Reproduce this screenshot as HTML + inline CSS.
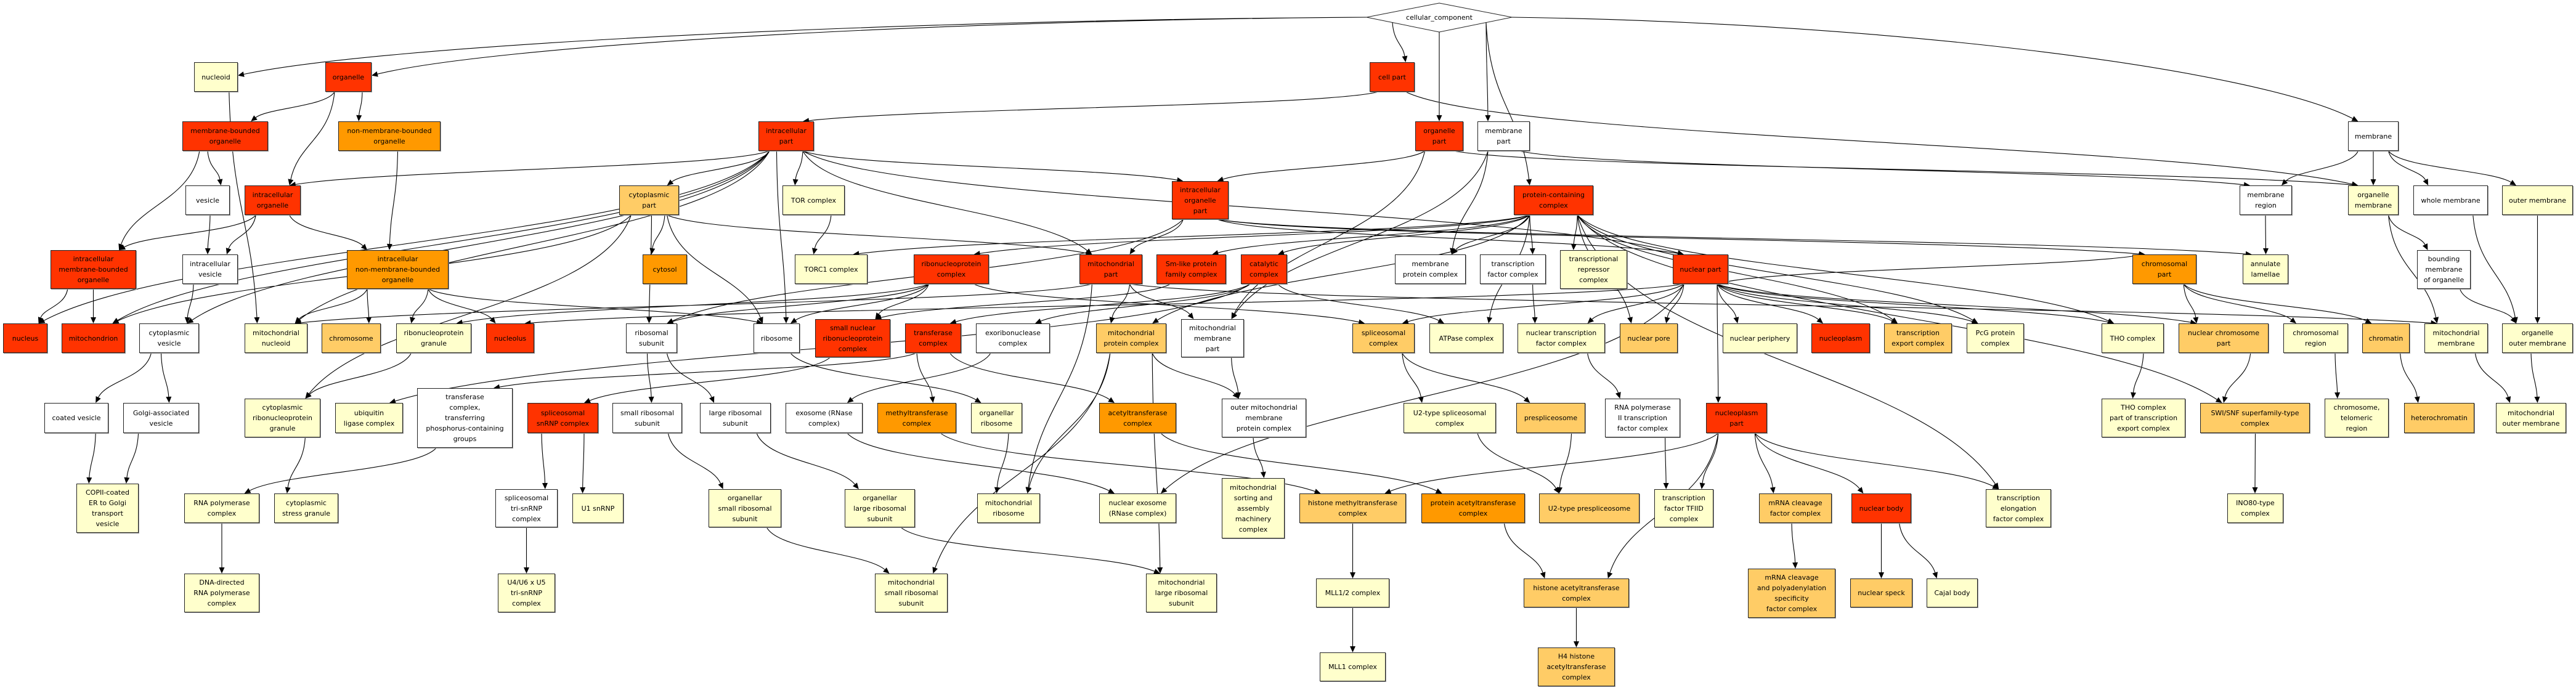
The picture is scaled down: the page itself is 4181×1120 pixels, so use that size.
<!DOCTYPE html>
<html><head><meta charset="utf-8">
<style>
html,body{margin:0;padding:0;background:#fff;}
#c{position:relative;width:4181px;height:1120px;overflow:hidden;background:#fff;}
svg{position:absolute;left:0;top:0;}
.n{position:absolute;box-sizing:border-box;border:1px solid #222;box-shadow:1px 1px 0 #999;display:flex;align-items:center;justify-content:center;text-align:center;font-family:"DejaVu Sans","Liberation Sans",sans-serif;font-size:11px;line-height:17px;color:#000;white-space:nowrap;z-index:2;}
.w{background:#fff}.p{background:#FFFFCC}.lo{background:#FFCC66}.o{background:#FF9900}.r{background:#FF3300}
</style></head><body><div id="c">
<svg id="s" width="4181" height="1120" viewBox="0 0 4181 1120">
<polygon points="2218,28 2336,5 2454,28 2336,52" fill="#fff" stroke="#222" stroke-width="1"/>
<text x="2336" y="32" text-anchor="middle" font-family="DejaVu Sans, Liberation Sans, sans-serif" font-size="11">cellular_component</text>
<g id="eg" fill="none" stroke="#000" stroke-width="1.1"></g><g id="ah" fill="#000"></g>
</svg>
<div id="cc" style="position:absolute;left:2218px;top:5px;width:236px;height:47px"></div>
<div class="n p" id="nucleoid" style="left:315px;top:101px;width:71px;height:48px">nucleoid</div>
<div class="n r" id="organelle" style="left:528px;top:101px;width:75px;height:48px">organelle</div>
<div class="n r" id="cellpart" style="left:2223px;top:101px;width:73px;height:48px">cell part</div>
<div class="n r" id="mbo" style="left:296px;top:197px;width:139px;height:48px">membrane-bounded<br>organelle</div>
<div class="n o" id="nmbo" style="left:549px;top:197px;width:166px;height:48px">non-membrane-bounded<br>organelle</div>
<div class="n r" id="icpart" style="left:1231px;top:197px;width:90px;height:48px">intracellular<br>part</div>
<div class="n r" id="orgpart" style="left:2297px;top:197px;width:78px;height:48px">organelle<br>part</div>
<div class="n w" id="mempart" style="left:2398px;top:197px;width:85px;height:48px">membrane<br>part</div>
<div class="n w" id="membrane" style="left:3811px;top:197px;width:82px;height:48px">membrane</div>
<div class="n w" id="vesicle" style="left:301px;top:301px;width:72px;height:48px">vesicle</div>
<div class="n r" id="io" style="left:397px;top:301px;width:91px;height:48px">intracellular<br>organelle</div>
<div class="n lo" id="cytopart" style="left:1005px;top:301px;width:97px;height:48px">cytoplasmic<br>part</div>
<div class="n p" id="tor" style="left:1270px;top:301px;width:101px;height:48px">TOR complex</div>
<div class="n r" id="iop" style="left:1902px;top:294px;width:92px;height:62px">intracellular<br>organelle<br>part</div>
<div class="n r" id="pcc" style="left:2457px;top:301px;width:129px;height:48px">protein-containing<br>complex</div>
<div class="n w" id="memreg" style="left:3635px;top:301px;width:85px;height:48px">membrane<br>region</div>
<div class="n p" id="orgmem" style="left:3811px;top:301px;width:82px;height:48px">organelle<br>membrane</div>
<div class="n w" id="wholemem" style="left:3917px;top:301px;width:121px;height:48px">whole membrane</div>
<div class="n p" id="outermem" style="left:4061px;top:301px;width:115px;height:48px">outer membrane</div>
<div class="n r" id="imbo" style="left:82px;top:406px;width:139px;height:63px">intracellular<br>membrane-bounded<br>organelle</div>
<div class="n w" id="iv" style="left:296px;top:413px;width:90px;height:48px">intracellular<br>vesicle</div>
<div class="n o" id="inmbo" style="left:563px;top:406px;width:165px;height:63px">intracellular<br>non-membrane-bounded<br>organelle</div>
<div class="n o" id="cytosol" style="left:1043px;top:413px;width:72px;height:48px">cytosol</div>
<div class="n p" id="torc1" style="left:1290px;top:413px;width:118px;height:48px">TORC1 complex</div>
<div class="n r" id="rnpc" style="left:1483px;top:413px;width:122px;height:48px">ribonucleoprotein<br>complex</div>
<div class="n r" id="mitopart" style="left:1752px;top:413px;width:102px;height:48px">mitochondrial<br>part</div>
<div class="n r" id="smlike" style="left:1877px;top:413px;width:113px;height:48px">Sm-like protein<br>family complex</div>
<div class="n r" id="catal" style="left:2014px;top:413px;width:75px;height:48px">catalytic<br>complex</div>
<div class="n w" id="mpc" style="left:2264px;top:413px;width:115px;height:48px">membrane<br>protein complex</div>
<div class="n w" id="tfc" style="left:2402px;top:413px;width:107px;height:48px">transcription<br>factor complex</div>
<div class="n p" id="trc" style="left:2532px;top:406px;width:109px;height:63px">transcriptional<br>repressor<br>complex</div>
<div class="n r" id="nucpart" style="left:2715px;top:413px;width:90px;height:48px">nuclear part</div>
<div class="n o" id="chrpart" style="left:3461px;top:413px;width:104px;height:48px">chromosomal<br>part</div>
<div class="n p" id="annul" style="left:3640px;top:413px;width:74px;height:48px">annulate<br>lamellae</div>
<div class="n w" id="bound" style="left:3923px;top:406px;width:87px;height:63px">bounding<br>membrane<br>of organelle</div>
<div class="n r" id="nucleus" style="left:5px;top:525px;width:72px;height:48px">nucleus</div>
<div class="n r" id="mitochondrion" style="left:100px;top:525px;width:103px;height:48px">mitochondrion</div>
<div class="n w" id="cytoves" style="left:226px;top:525px;width:97px;height:48px">cytoplasmic<br>vesicle</div>
<div class="n p" id="mitonucleoid" style="left:397px;top:525px;width:102px;height:48px">mitochondrial<br>nucleoid</div>
<div class="n lo" id="chromosome" style="left:522px;top:525px;width:96px;height:48px">chromosome</div>
<div class="n p" id="rnpgran" style="left:643px;top:525px;width:122px;height:48px">ribonucleoprotein<br>granule</div>
<div class="n r" id="nucleolus" style="left:789px;top:525px;width:78px;height:48px">nucleolus</div>
<div class="n w" id="ribsub" style="left:1016px;top:525px;width:83px;height:48px">ribosomal<br>subunit</div>
<div class="n w" id="ribosome" style="left:1223px;top:525px;width:75px;height:48px">ribosome</div>
<div class="n r" id="snrnp" style="left:1323px;top:518px;width:122px;height:62px">small nuclear<br>ribonucleoprotein<br>complex</div>
<div class="n r" id="transf" style="left:1469px;top:525px;width:91px;height:48px">transferase<br>complex</div>
<div class="n w" id="exorib" style="left:1584px;top:525px;width:120px;height:48px">exoribonuclease<br>complex</div>
<div class="n lo" id="mitoprot" style="left:1779px;top:525px;width:114px;height:48px">mitochondrial<br>protein complex</div>
<div class="n w" id="mitomempart" style="left:1917px;top:518px;width:102px;height:62px">mitochondrial<br>membrane<br>part</div>
<div class="n lo" id="splc" style="left:2195px;top:525px;width:101px;height:48px">spliceosomal<br>complex</div>
<div class="n p" id="atpase" style="left:2320px;top:525px;width:120px;height:48px">ATPase complex</div>
<div class="n p" id="ntfc" style="left:2463px;top:525px;width:142px;height:48px">nuclear transcription<br>factor complex</div>
<div class="n lo" id="nucpore" style="left:2629px;top:525px;width:94px;height:48px">nuclear pore</div>
<div class="n p" id="nucper" style="left:2796px;top:525px;width:121px;height:48px">nuclear periphery</div>
<div class="n r" id="nucleoplasm" style="left:2940px;top:525px;width:95px;height:48px">nucleoplasm</div>
<div class="n lo" id="texp" style="left:3058px;top:525px;width:110px;height:48px">transcription<br>export complex</div>
<div class="n p" id="pcg" style="left:3192px;top:525px;width:93px;height:48px">PcG protein<br>complex</div>
<div class="n p" id="tho" style="left:3411px;top:525px;width:101px;height:48px">THO complex</div>
<div class="n lo" id="ncp" style="left:3536px;top:525px;width:146px;height:48px">nuclear chromosome<br>part</div>
<div class="n p" id="chrreg" style="left:3706px;top:525px;width:105px;height:48px">chromosomal<br>region</div>
<div class="n lo" id="chromatin" style="left:3834px;top:525px;width:77px;height:48px">chromatin</div>
<div class="n p" id="mitomem" style="left:3935px;top:525px;width:103px;height:48px">mitochondrial<br>membrane</div>
<div class="n p" id="orgoutmem" style="left:4061px;top:525px;width:115px;height:48px">organelle<br>outer membrane</div>
<div class="n w" id="coated" style="left:72px;top:654px;width:104px;height:49px">coated vesicle</div>
<div class="n w" id="golgi" style="left:200px;top:654px;width:123px;height:49px">Golgi-associated<br>vesicle</div>
<div class="n p" id="cyrnpg" style="left:397px;top:647px;width:123px;height:63px">cytoplasmic<br>ribonucleoprotein<br>granule</div>
<div class="n p" id="ubiq" style="left:544px;top:654px;width:110px;height:49px">ubiquitin<br>ligase complex</div>
<div class="n w" id="tphos" style="left:677px;top:630px;width:155px;height:97px">transferase<br>complex,<br>transferring<br>phosphorus-containing<br>groups</div>
<div class="n r" id="spsnrnp" style="left:856px;top:654px;width:115px;height:49px">spliceosomal<br>snRNP complex</div>
<div class="n w" id="smallrib" style="left:994px;top:654px;width:113px;height:49px">small ribosomal<br>subunit</div>
<div class="n w" id="largerib" style="left:1136px;top:654px;width:115px;height:49px">large ribosomal<br>subunit</div>
<div class="n w" id="exosome" style="left:1275px;top:654px;width:125px;height:49px">exosome (RNase<br>complex)</div>
<div class="n o" id="methyl" style="left:1424px;top:654px;width:128px;height:49px">methyltransferase<br>complex</div>
<div class="n p" id="orgrib" style="left:1576px;top:654px;width:83px;height:49px">organellar<br>ribosome</div>
<div class="n o" id="acetyl" style="left:1784px;top:654px;width:125px;height:49px">acetyltransferase<br>complex</div>
<div class="n w" id="outmitoprot" style="left:1983px;top:647px;width:137px;height:63px">outer mitochondrial<br>membrane<br>protein complex</div>
<div class="n p" id="u2sp" style="left:2278px;top:654px;width:150px;height:49px">U2-type spliceosomal<br>complex</div>
<div class="n lo" id="prespl" style="left:2461px;top:654px;width:112px;height:49px">prespliceosome</div>
<div class="n w" id="rnap2tf" style="left:2605px;top:647px;width:122px;height:63px">RNA polymerase<br>II transcription<br>factor complex</div>
<div class="n r" id="nucplpart" style="left:2769px;top:654px;width:99px;height:49px">nucleoplasm<br>part</div>
<div class="n p" id="thopart" style="left:3411px;top:647px;width:136px;height:63px">THO complex<br>part of transcription<br>export complex</div>
<div class="n lo" id="swisnf" style="left:3571px;top:654px;width:178px;height:49px">SWI/SNF superfamily-type<br>complex</div>
<div class="n p" id="telo" style="left:3773px;top:647px;width:104px;height:63px">chromosome,<br>telomeric<br>region</div>
<div class="n lo" id="hetero" style="left:3902px;top:654px;width:114px;height:49px">heterochromatin</div>
<div class="n p" id="mitooutmem" style="left:4051px;top:654px;width:114px;height:49px">mitochondrial<br>outer membrane</div>
<div class="n p" id="copii" style="left:124px;top:785px;width:101px;height:80px">COPII-coated<br>ER to Golgi<br>transport<br>vesicle</div>
<div class="n p" id="rnapol" style="left:299px;top:801px;width:122px;height:48px">RNA polymerase<br>complex</div>
<div class="n p" id="stress" style="left:445px;top:801px;width:104px;height:48px">cytoplasmic<br>stress granule</div>
<div class="n w" id="trisnrnp" style="left:804px;top:794px;width:101px;height:62px">spliceosomal<br>tri-snRNP<br>complex</div>
<div class="n p" id="u1" style="left:929px;top:801px;width:83px;height:48px">U1 snRNP</div>
<div class="n p" id="orgsmall" style="left:1150px;top:794px;width:118px;height:62px">organellar<br>small ribosomal<br>subunit</div>
<div class="n p" id="orglarge" style="left:1371px;top:794px;width:114px;height:62px">organellar<br>large ribosomal<br>subunit</div>
<div class="n p" id="mitorib" style="left:1586px;top:801px;width:102px;height:48px">mitochondrial<br>ribosome</div>
<div class="n p" id="nucexo" style="left:1784px;top:801px;width:125px;height:48px">nuclear exosome<br>(RNase complex)</div>
<div class="n p" id="sam" style="left:1983px;top:776px;width:102px;height:98px">mitochondrial<br>sorting and<br>assembly<br>machinery<br>complex</div>
<div class="n lo" id="hmt" style="left:2109px;top:801px;width:173px;height:48px">histone methyltransferase<br>complex</div>
<div class="n o" id="pat" style="left:2307px;top:801px;width:168px;height:48px">protein acetyltransferase<br>complex</div>
<div class="n lo" id="u2pre" style="left:2498px;top:801px;width:163px;height:48px">U2-type prespliceosome</div>
<div class="n p" id="tfiid" style="left:2685px;top:794px;width:96px;height:62px">transcription<br>factor TFIID<br>complex</div>
<div class="n lo" id="mrnacf" style="left:2855px;top:801px;width:118px;height:48px">mRNA cleavage<br>factor complex</div>
<div class="n r" id="nucbody" style="left:3005px;top:801px;width:97px;height:48px">nuclear body</div>
<div class="n p" id="telong" style="left:3223px;top:794px;width:106px;height:62px">transcription<br>elongation<br>factor complex</div>
<div class="n p" id="ino80" style="left:3615px;top:801px;width:91px;height:48px">INO80-type<br>complex</div>
<div class="n p" id="dnarna" style="left:299px;top:931px;width:122px;height:63px">DNA-directed<br>RNA polymerase<br>complex</div>
<div class="n p" id="u4u6" style="left:808px;top:931px;width:93px;height:63px">U4/U6 x U5<br>tri-snRNP<br>complex</div>
<div class="n p" id="mitosmall" style="left:1420px;top:931px;width:118px;height:63px">mitochondrial<br>small ribosomal<br>subunit</div>
<div class="n p" id="mitolarge" style="left:1860px;top:931px;width:115px;height:63px">mitochondrial<br>large ribosomal<br>subunit</div>
<div class="n p" id="mll12" style="left:2136px;top:939px;width:119px;height:47px">MLL1/2 complex</div>
<div class="n lo" id="hat" style="left:2473px;top:939px;width:171px;height:47px">histone acetyltransferase<br>complex</div>
<div class="n lo" id="mrnacpsf" style="left:2837px;top:923px;width:142px;height:80px">mRNA cleavage<br>and polyadenylation<br>specificity<br>factor complex</div>
<div class="n lo" id="speck" style="left:3003px;top:939px;width:101px;height:47px">nuclear speck</div>
<div class="n p" id="cajal" style="left:3127px;top:939px;width:83px;height:47px">Cajal body</div>
<div class="n p" id="mll1" style="left:2142px;top:1059px;width:107px;height:47px">MLL1 complex</div>
<div class="n lo" id="h4" style="left:2496px;top:1051px;width:125px;height:63px">H4 histone<br>acetyltransferase<br>complex</div>
</div>
<script>
var E="cc>nucleoid cc>organelle cc>cellpart cc>orgpart cc>mempart cc>pcc cc>membrane organelle>mbo organelle>nmbo organelle>io nucleoid>mitonucleoid mbo>vesicle mbo>imbo nmbo>inmbo vesicle>iv io>imbo io>iv io>inmbo imbo>nucleus imbo>mitochondrion iv>cytoves inmbo>mitonucleoid inmbo>chromosome inmbo>rnpgran inmbo>nucleolus inmbo>ribosome cytoves>coated cytoves>golgi coated>copii golgi>copii rnpgran>cyrnpg cyrnpg>stress cellpart>icpart cellpart>orgmem icpart>cytopart icpart>tor icpart>io icpart>iop icpart>mitochondrion icpart>nucleus icpart>ribosome icpart>nucpart icpart>mitopart icpart>cytoves icpart>mitonucleoid orgpart>iop orgpart>orgmem orgpart>mitomempart mempart>mpc mempart>memreg mempart>mitomempart cytopart>cytosol cytopart>ribosome cytopart>mitopart cytopart>ribsub cytopart>cyrnpg cytopart>mitochondrion tor>torc1 pcc>torc1 pcc>rnpc pcc>catal pcc>mpc pcc>tfc pcc>trc pcc>nucpore pcc>smlike pcc>pcg pcc>tho pcc>texp pcc>telong pcc>atpase pcc>mitoprot pcc>swisnf iop>mitopart iop>nucpart iop>chrpart iop>ribsub iop>annul rnpc>snrnp rnpc>ribosome rnpc>ribsub rnpc>rnpgran rnpc>splc mitopart>mitoprot mitopart>mitomempart mitopart>mitorib mitopart>mitomem mitopart>mitonucleoid smlike>snrnp catal>transf catal>exorib catal>atpase catal>ubiq snrnp>spsnrnp transf>methyl transf>acetyl transf>tphos exorib>exosome mitoprot>outmitoprot mitoprot>mitorib mitoprot>mitosmall mitoprot>mitolarge mitomempart>outmitoprot ribsub>smallrib ribsub>largerib smallrib>orgsmall largerib>orglarge orgsmall>mitosmall orglarge>mitolarge exosome>nucexo methyl>hmt orgrib>mitorib ribosome>orgrib acetyl>pat outmitoprot>sam tphos>rnapol spsnrnp>trisnrnp spsnrnp>u1 trisnrnp>u4u6 rnapol>dnarna splc>u2sp splc>prespl u2sp>u2pre prespl>u2pre tfc>ntfc ntfc>rnap2tf rnap2tf>tfiid nucpart>nucpore nucpart>nucper nucpart>nucleoplasm nucpart>texp nucpart>nucplpart nucpart>chrpart nucpart>splc nucpart>ntfc nucpart>ncp nucpart>nucleolus nucpart>pcg nucpart>tho nucpart>nucexo nucplpart>hmt nucplpart>tfiid nucplpart>mrnacf nucplpart>nucbody nucplpart>hat nucplpart>telong hmt>mll12 mll12>mll1 pat>hat hat>h4 mrnacf>mrnacpsf nucbody>speck nucbody>cajal tho>thopart ncp>swisnf swisnf>ino80 chrpart>ncp chrpart>chrreg chrpart>chromatin chrreg>telo chromatin>hetero membrane>memreg membrane>orgmem membrane>wholemem membrane>outermem memreg>annul orgmem>bound orgmem>mitomem bound>orgoutmem wholemem>orgoutmem outermem>orgoutmem orgoutmem>mitooutmem mitomem>mitooutmem".split(" ");
function R(id){var e=document.getElementById(id);return {x:e.offsetLeft,y:e.offsetTop,w:e.offsetWidth,h:e.offsetHeight};}
function cl(v,a,b){return Math.max(a,Math.min(b,v));}
function f(v){return v.toFixed(1);}
var eg=document.getElementById("eg"),ah=document.getElementById("ah"),NS="http://www.w3.org/2000/svg",pd="",ad="";
E.forEach(function(s){var p=s.split(">"),a=R(p[0]),b=R(p[1]);
var acx=a.x+a.w/2,bcx=b.x+b.w/2,sx,sy,tx,ty,c1x,c1y,c2x,c2y;
tx=cl(acx,b.x+b.w*0.2,b.x+b.w*0.8);ty=b.y;
var ccside=p[0]=="cc"&&Math.abs(bcx-2336)>400;
if(p[0]=="cc"){
 if(ccside){sx=bcx<2336?2218:2454;sy=28;}
 else{sx=cl(bcx,2260,2412);sy=28+(1-Math.abs(sx-2336)/118)*24;}
}else{sx=cl(bcx,a.x+a.w*0.2,a.x+a.w*0.8);sy=a.y+a.h;}
if(ccside&&b.y<160){tx=b.x+b.w;ty=b.y+b.h*0.45;}
var dy=ty-sy,dx=tx-sx;
if(ccside){c1x=sx+dx*0.45;c1y=sy+dy*0.05;c2x=tx-dx*0.12;c2y=ty-dy*0.5;}
else{c1x=sx+dx*0.1;c1y=sy+dy*0.5;c2x=tx-dx*0.2;c2y=ty-dy*0.45;}
var vx=tx-c2x,vy=ty-c2y,L=Math.sqrt(vx*vx+vy*vy)||1;vx/=L;vy/=L;
var bx=tx-vx*10,by=ty-vy*10;
pd+="M"+f(sx)+","+f(sy)+"C"+f(c1x)+","+f(c1y)+" "+f(c2x)+","+f(c2y)+" "+f(bx)+","+f(by);
ad+="M"+f(tx)+","+f(ty)+"L"+f(bx-vy*4.5)+","+f(by+vx*4.5)+"L"+f(bx+vy*4.5)+","+f(by-vx*4.5)+"Z";
});
var p1=document.createElementNS(NS,"path");p1.setAttribute("d",pd);eg.appendChild(p1);
var p2=document.createElementNS(NS,"path");p2.setAttribute("d",ad);ah.appendChild(p2);
</script>
</body></html>
